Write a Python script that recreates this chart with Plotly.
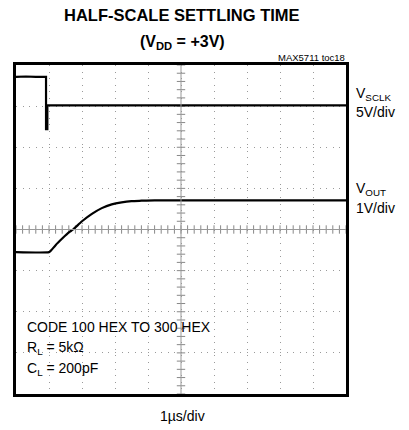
import numpy as np
import plotly.graph_objects as go

# time in divisions (1 µs/div), amplitude in divisions (0 = bottom of screen)
sclk_t = [0.0, 0.3, 0.6, 0.91, 0.91, 0.95, 0.95, 3.0, 6.0, 10.0]
sclk_v = [7.71, 7.72, 7.71, 7.71, 6.44, 6.44, 7.02, 7.02, 7.02, 7.02]

vout_t = [0.0, 1.0, 1.05, 1.2, 1.4, 1.6, 1.73, 2.0, 2.3, 2.6, 2.9, 3.2, 3.5, 3.8, 4.2, 10.0]
vout_v = [3.45, 3.45, 3.48, 3.62, 3.78, 3.93, 4.0, 4.2, 4.38, 4.52, 4.61, 4.66, 4.69, 4.70, 4.71, 4.71]

W, H = 409, 430
L, R, T, B = 16, 346, 65, 394


def px(x):
    return (x - L) / (R - L)


def py(y):
    return (B - y) / (B - T)


fig = go.Figure()

# center-line minor ticks (graticule)
hx = np.arange(0, 10.001, 0.2)
vy = np.arange(0, 8.001, 0.2)
fig.add_trace(go.Scatter(x=hx, y=[4] * len(hx), mode="markers",
                         marker=dict(symbol="line-ns-open", size=6, color="#888888",
                                     line=dict(width=1, color="#888888")),
                         hoverinfo="skip", showlegend=False))
fig.add_trace(go.Scatter(x=[5] * len(vy), y=vy, mode="markers",
                         marker=dict(symbol="line-ew-open", size=6, color="#888888",
                                     line=dict(width=1, color="#888888")),
                         hoverinfo="skip", showlegend=False))

fig.add_shape(type="line", x0=0, x1=10, y0=4, y1=4, xref="x", yref="y",
              line=dict(color="#999999", width=1))
fig.add_shape(type="line", x0=5, x1=5, y0=0, y1=8, xref="x", yref="y",
              line=dict(color="#999999", width=1))

fig.add_trace(go.Scatter(x=sclk_t, y=sclk_v, mode="lines",
                         line=dict(color="black", width=2.2), showlegend=False))
fig.add_trace(go.Scatter(x=vout_t, y=vout_v, mode="lines",
                         line=dict(color="black", width=2.2, shape="spline", smoothing=0.6),
                         showlegend=False))

axis_common = dict(showgrid=True, gridcolor="#9a9a9a", griddash="1px,5.6px", gridwidth=1,
                   showline=True, linecolor="black", linewidth=3, mirror=True,
                   ticks="", showticklabels=False, zeroline=False, fixedrange=True)

fig.update_xaxes(range=[0, 10], dtick=1, tick0=0, **axis_common)
fig.update_yaxes(range=[0, 8], dtick=1, tick0=0, **axis_common)

font = "Liberation Sans, Arial, sans-serif"
ann = []


def add(text, x, y, size=14, xanchor="left"):
    ann.append(dict(text=text, x=px(x), y=py(y), xref="paper", yref="paper",
                    showarrow=False, xanchor=xanchor, yanchor="middle",
                    font=dict(family=font, size=size, color="black")))


add("<b>HALF-SCALE SETTLING TIME</b>", 182, 15, size=16.5, xanchor="center")
add("<b>(V<sub>DD</sub> = +3V)</b>", 182, 42, size=16, xanchor="center")
add("MAX5711 toc18", 347, 57, size=9.5, xanchor="right")
add("V<sub>SCLK</sub>", 354, 94, size=14)
add("5V/div", 354, 112, size=14)
add("V<sub>OUT</sub>", 354, 189, size=14)
add("1V/div", 354, 208, size=14)
add("CODE 100 HEX TO 300 HEX", 25, 327, size=14)
add("R<sub>L</sub> = 5kΩ", 25, 348, size=14)
add("C<sub>L</sub> = 200pF", 25, 369, size=14)
add("1µs/div", 182, 416, size=14, xanchor="center")

fig.update_layout(width=W, height=H, margin=dict(l=L, r=W - R, t=T, b=H - B),
                  paper_bgcolor="white", plot_bgcolor="white", annotations=ann,
                  showlegend=False)

fig.write_html("out.html", config={"displayModeBar": False},
               post_script="document.body.style.margin='0';document.body.style.overflow='hidden';")
